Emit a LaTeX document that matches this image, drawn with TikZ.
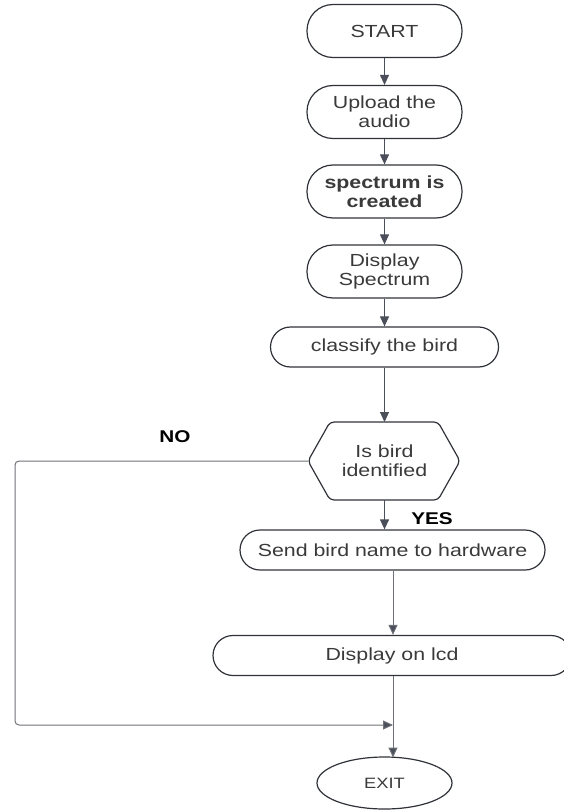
\documentclass[tikz,border=0pt]{standalone}
\usepackage{fontspec}
\setmainfont[FakeStretch=1.22]{Liberation Sans}
\usetikzlibrary{arrows.meta,shapes.geometric,calc}
\definecolor{linec}{HTML}{4A4F5A}
\definecolor{linel}{HTML}{6E7178}
\definecolor{boxc}{HTML}{2F3238}
\definecolor{txtc}{HTML}{3A3A3A}
\begin{document}
\begin{tikzpicture}[x=1pt,y=-1pt,
  every node/.style={font=\fontsize{17.5}{19}\selectfont, text=txtc},
  term/.style={draw=boxc, line width=1.2pt, rounded corners=26pt, minimum width=155pt, minimum height=53pt, align=center, inner sep=0pt},
  proc/.style={draw=boxc, line width=1.2pt, rounded corners=20pt, minimum height=40pt, align=center, inner sep=0pt},
  conn/.style={draw=linec, line width=1.1pt, -{Triangle[length=10pt,width=9pt]}},
  connl/.style={draw=linel, line width=1pt, -{Triangle[length=10pt,width=9pt,fill=linec]}},
  lbl/.style={font=\fontsize{17}{18.5}\selectfont\bfseries, text=black}
]
\useasboundingbox (0,0) rectangle (564,810);
\begin{scope}
\clip (0,0) rectangle (564,810);
\node[term] (start) at (384.5,31) {START};
\node[term] (upload) at (384.5,112) {Upload the\\audio};
\node[term, font=\fontsize{17.5}{19}\selectfont\bfseries] (spec) at (384.5,191.5) {spectrum is\\created};
\node[term] (disp) at (384.5,271.5) {Display\\Spectrum};
\node[proc, minimum width=228pt] (cls) at (384.5,347) {classify the bird};
% hexagon
\coordinate (hexL) at (308,461);
\coordinate (hexR) at (460,461);
\coordinate (hexT) at (384.5,422);
\coordinate (hexB) at (384.5,500);
\draw[draw=boxc, line width=1.2pt, rounded corners=4pt] (hexL) -- (330,422) -- (438,422) -- (hexR) -- (438,500) -- (330,500) -- cycle;
\node[align=center] (hex) at (384.5,461) {Is bird\\identified};
\node[proc, minimum width=305pt] (send) at (392.5,550) {Send bird name to hardware};
\node[proc, minimum width=358pt] (lcd) at (392,655.5) {Display on lcd};
\node[draw=boxc, line width=1.2pt, ellipse, minimum width=135pt, minimum height=52pt, inner sep=0pt] (exit) at (384.5,783) {\fontsize{15}{17}\selectfont EXIT};
\node[lbl] (no) at (175,437) {NO};
\node[lbl] (yes) at (432,519) {YES};
\draw[conn] (start) -- (upload);
\draw[conn] (upload) -- (spec);
\draw[conn] (spec) -- (disp);
\draw[conn] (disp) -- (cls);
\draw[conn] (cls) -- (hexT);
\draw[conn] (hexB) -- (hexB |- send.north);
\draw[connl] (send.south -| 393,0) -- (lcd.north -| 393,0);
\coordinate (exitT) at (393,757.5);
\draw[connl] (lcd.south -| exitT) -- (exitT);
\coordinate (join) at (393,725);
\draw[connl, rounded corners=4pt] (hexL) -- (15,461) -- (15,725) -- (join);
\end{scope}
\end{tikzpicture}
\end{document}
